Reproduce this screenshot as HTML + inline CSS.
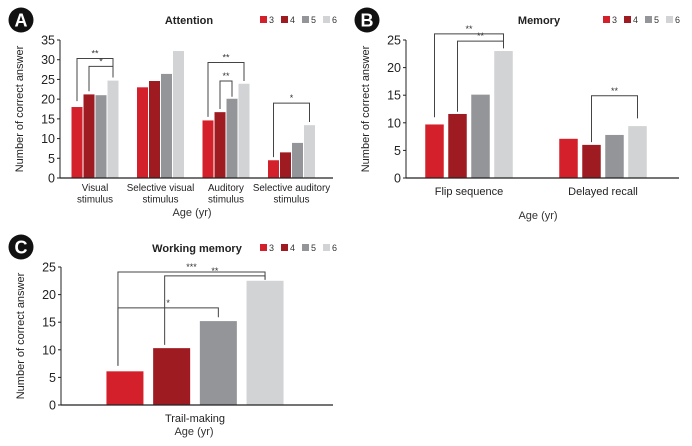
<!DOCTYPE html>
<html><head><meta charset="utf-8"><style>
html,body{margin:0;padding:0;background:#fff;}
svg{display:block;font-family:"Liberation Sans",Arial,sans-serif;}
</style></head><body>
<svg id="s" width="692" height="446" viewBox="0 0 692 446"></svg>
<script>
const colors=["#d4202b","#9e1b22","#939598","#d1d3d4"];
const ages=["3","4","5","6"];
const catsA=[["Visual","stimulus"],["Selective visual","stimulus"],["Auditory","stimulus"],["Selective auditory","stimulus"]];
const valsA=[[18,21.2,21,24.7],[23,24.6,26.4,32.2],[14.6,16.7,20.1,23.9],[4.5,6.5,8.9,13.4]];
const ticksA=[0,5,10,15,20,25,30,35];
const sigA=[[0,0,3,19.5,30.3,25.5,"**"],[0,1,3,22,28.3,25.5,"*"],[2,0,3,15.5,29.3,24.6,"**"],[2,1,2,17.5,24.6,20.6,"**"],[3,0,3,5.3,19,14.2,"*"]];
const catsB=[["Flip sequence"],["Delayed recall"]];
const valsB=[[9.7,11.6,15.1,23],[7.1,6,7.8,9.4]];
const ticksB=[0,5,10,15,20,25];
const sigB=[[0,0,3,11,26.1,23.5,"**"],[0,1,3,12,24.8,23.5,"**"],[1,1,3,6.5,14.9,10.8,"**"]];
const catsC=[["Trail-making"]];
const valsC=[[6.1,10.3,15.2,22.5]];
const ticksC=[0,5,10,15,20,25];
const sigC=[[0,0,3,7.1,24.1,22.7,"***"],[0,1,3,10.9,23.4,22.7,"**"],[0,0,2,7.1,17.6,15.9,"*"]];
const NS="http://www.w3.org/2000/svg";
const svg=document.getElementById('s');
function el(t,a,p){const e=document.createElementNS(NS,t);for(const k in a)e.setAttribute(k,a[k]);(p||svg).appendChild(e);return e;}
function panel(o){
 const g=el('g',{});
 
 
 const y=v=>o.y0-(v-0)*(o.y0-o.yTop)/o.max;
 const cx=i=>o.c0+i*o.cStep;
 const bx=(i,j)=>cx(i)+(j-1.5)*o.pitch;
 const b=el('circle',{cx:o.bx,cy:o.by,r:12.5,fill:'#111'},g);
 
 const bt=el('text',{x:o.bx,y:o.by+6.5,'text-anchor':'middle','font-size':18,'font-weight':'bold',fill:'#fff'},g);bt.textContent=o.letter;
 
 const t=el('text',{x:o.tx,y:o.ty,'text-anchor':'middle','font-size':11,'font-weight':'bold',fill:'#222'},g);t.textContent=o.title;
 
 ages.forEach((a,k)=>{
  const lx=o.lx+k*21;
  const r=el('rect',{x:lx,y:o.ly-7,width:7,height:7,fill:colors[k]},g);
  
  const lt=el('text',{x:lx+9,y:o.ly,'font-size':9,fill:'#333'},g);lt.textContent=a;
  
 });
 const ya=el('line',{x1:o.ax,y1:o.yTop,x2:o.ax,y2:o.y0,stroke:'#222','stroke-width':1},g);
 
 o.ticks.forEach(v=>{
  el('line',{x1:o.ax-3,y1:y(v),x2:o.ax,y2:y(v),stroke:'#222'},g);
  const tt=el('text',{x:o.ax-5,y:y(v)+4.5,'text-anchor':'end','font-size':12.5,fill:'#222'},g);tt.textContent=v;
  
 });
 const yl=el('text',{transform:`translate(${o.ax-37},${(o.y0+o.yTop)/2}) rotate(-90)`,'text-anchor':'middle','font-size':11,fill:'#222'},g);yl.textContent='Number of correct answer';
 
 o.vals.forEach((gr,i)=>gr.forEach((v,j)=>{
  const r=el('rect',{x:bx(i,j)-o.bw/2,y:y(v),width:o.bw,height:o.y0-y(v),fill:colors[j]},g);
  
 }));
 const xa=el('line',{x1:o.ax,y1:o.y0,x2:o.xEnd,y2:o.y0,stroke:'#222','stroke-width':1.2},g);
 
 o.cats.forEach((c,i)=>c.forEach((s,k)=>{
  const ct=el('text',{x:cx(i),y:o.y0+o.catDy+k*o.catLh,'text-anchor':'middle','font-size':o.catFs,fill:'#222'},g);ct.textContent=s;
  
 }));
 const xt=el('text',{x:o.xtx,y:o.xty,'text-anchor':'middle','font-size':11,fill:'#333'},g);xt.textContent='Age (yr)';
 
 o.sig.forEach(s=>{
  const [gi,a,bb,lo,top,rlo,lab]=s;
  const x1=bx(gi,a)+(o.sigOff?o.sigOff[0]:0), x2=bx(gi,bb)+(o.sigOff?o.sigOff[1]:0);
  const p=el('polyline',{points:`${x1},${y(lo)} ${x1},${y(top)} ${x2},${y(top)} ${x2},${y(rlo)}`,fill:'none',stroke:'#444','stroke-width':1},g);
  
  const st=el('text',{x:(x1+x2)/2,y:y(top)-2,'text-anchor':'middle','font-size':9,fill:'#333'},g);st.textContent=lab;
  
 });
}
panel({letter:'A',title:'Attention',bx:21,by:20,tx:189,ty:24,lx:260,ly:23,ax:60,xEnd:333,y0:178,yTop:40,max:35,ticks:ticksA,vals:valsA,cats:catsA,c0:95,cStep:65.5,pitch:12,bw:11,catDy:13,catLh:11.5,catFs:9.8,xtx:192,xty:216,sig:sigA});
panel({letter:'B',title:'Memory',bx:367,by:20,tx:539,ty:24,lx:603,ly:23,ax:406,xEnd:679,y0:178,yTop:40,max:25,ticks:ticksB,vals:valsB,cats:catsB,c0:469,cStep:134,pitch:23,bw:18.5,catDy:17,catLh:12,catFs:11,xtx:538,xty:219,sig:sigB});
panel({letter:'C',title:'Working memory',bx:21,by:247,tx:197,ty:252,lx:260,ly:251,ax:61,xEnd:333,y0:405,yTop:267,max:25,ticks:ticksC,vals:valsC,cats:catsC,c0:195,cStep:0,pitch:46.7,bw:37,catDy:17,catLh:12,catFs:11,xtx:194,xty:435,sig:sigC,sigOff:[-7,0]});
</script>
</body></html>
